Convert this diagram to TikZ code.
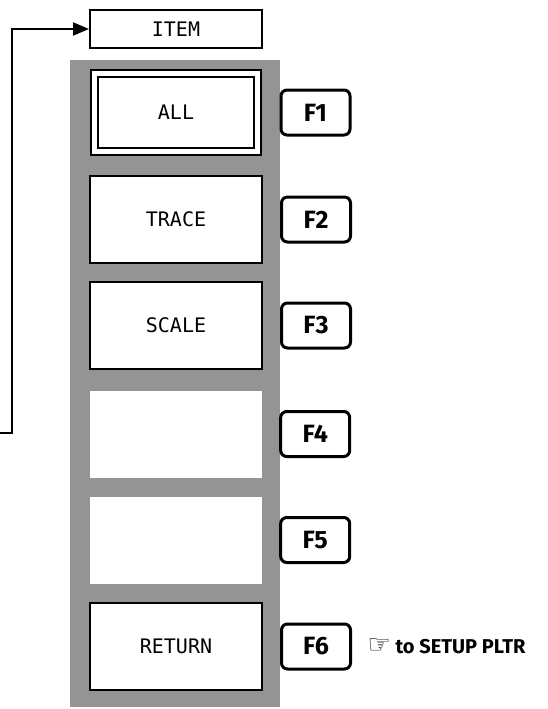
\documentclass[tikz,border=0pt]{standalone}
\usepackage{fontspec}
\setmainfont{Fira Sans}
\newfontfamily\menufont{DejaVu Sans Mono}
\newfontfamily\handfont{DejaVu Sans}
\usetikzlibrary{arrows.meta, positioning}

\begin{document}
\begin{tikzpicture}[
    x=1pt, y=-1pt,
    menubox/.style={
        draw,
        line width=2pt,
        fill=white,
        minimum width=172pt,
        minimum height=87pt,
        font=\menufont\fontsize{20}{22}\selectfont
    },
    blankbox/.style={
        fill=white,
        minimum width=172pt,
        minimum height=87pt
    },
    fkey/.style={
        draw,
        line width=3pt,
        rounded corners=6pt,
        fill=white,
        minimum width=69pt,
        minimum height=45pt,
        font=\bfseries\fontsize{25}{26}\selectfont
    },
    arrow/.style={-{Triangle[length=16pt,width=13pt]}, line width=2pt},
    node distance=17pt
]
\useasboundingbox (0,0) rectangle (547,709);

% ------------------------
% Shaded panel
% ------------------------
\fill[black!42] (70,60) rectangle (280,707);

% ------------------------
% Menu boxes (left)
% ------------------------
\node[menubox, minimum height=38pt] (item) at (176,29) {ITEM};

\node[menubox, double, double distance=5pt,
  minimum width=163pt, minimum height=78pt] (all) at (176,112.5) {ALL};

\node[menubox] (trace) at (176,219.5) {TRACE};
\node[menubox] (scale) at (176,325.5) {SCALE};
\node[blankbox] (blank4) at (176,434) {};
\node[blankbox] (blank5) at (176,540) {};
\node[menubox] (return) at (176,646.5) {RETURN};

% ------------------------
% Function keys (right)
% ------------------------
\node[fkey, right=21pt of all] (f1) {F1};
\node[fkey, right=of trace] (f2) {F2};
\node[fkey, right=of scale] (f3) {F3};
\node[fkey, right=of blank4] (f4) {F4};
\node[fkey, right=of blank5] (f5) {F5};
\node[fkey, right=of return] (f6) {F6};

\node[right=12pt of f6, font=\bfseries\fontsize{20}{22}\selectfont] (goto)
{{\handfont\mdseries\fontsize{26}{26}\selectfont ☞} to SETUP PLTR};

% ------------------------
% Arrow
% ------------------------
\coordinate (from) at (0,433);
\draw[arrow] (from) -- (12,433) |- (item.west);

\end{tikzpicture}
\end{document}
